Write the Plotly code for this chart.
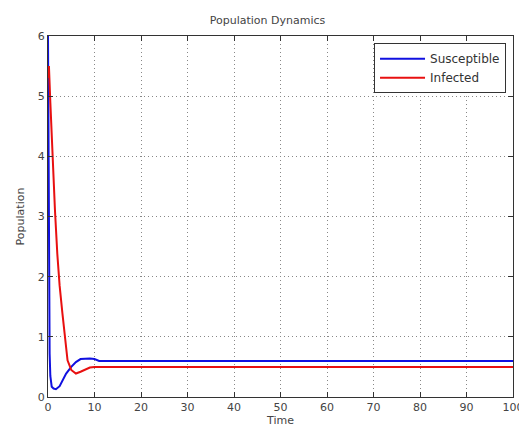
import plotly.graph_objects as go

# Data
time_s = [0, 0.1, 0.2, 0.35, 0.5, 0.8, 1.2, 1.7, 2.5, 3.2, 3.9, 5.0, 6.0, 7.0, 8.0, 9.0, 10.0, 11.0, 20, 40, 60, 80, 100]
susceptible = [6.0, 4.2, 3.0, 0.72, 0.35, 0.17, 0.14, 0.13, 0.18, 0.28, 0.39, 0.50, 0.58, 0.63, 0.64, 0.64, 0.63, 0.60, 0.60, 0.60, 0.60, 0.60, 0.60]

time_i = [0, 0.2, 0.5, 0.95, 1.5, 2.0, 2.5, 3.1, 3.6, 4.2, 5.0, 6.0, 7.0, 8.2, 9.0, 10.0, 11.0, 20, 40, 60, 80, 100]
infected = [5.3, 5.5, 4.9, 4.05, 3.1, 2.38, 1.85, 1.39, 1.0, 0.61, 0.45, 0.39, 0.42, 0.47, 0.49, 0.50, 0.50, 0.50, 0.50, 0.50, 0.50, 0.50]

x_ticks = [0, 10, 20, 30, 40, 50, 60, 70, 80, 90, 100]
y_ticks = [0, 1, 2, 3, 4, 5, 6]

fig = go.Figure()
fig.add_trace(go.Scatter(x=time_s, y=susceptible, mode="lines", name="Susceptible",
                         line=dict(color="#1010e0", width=2)))
fig.add_trace(go.Scatter(x=time_i, y=infected, mode="lines", name="Infected",
                         line=dict(color="#e81010", width=2)))

axis_common = dict(
    showline=True, linecolor="#333333", linewidth=1, mirror="ticks",
    ticks="inside", ticklen=5, tickcolor="#333333", automargin=False,
    showgrid=True, gridcolor="#888888", griddash="1px,3px", gridwidth=1,
    zeroline=False, tickfont=dict(family="DejaVu Sans", size=11, color="#444444"),
)

fig.update_layout(
    width=519, height=427,
    margin=dict(l=40, r=14, t=28, b=38),
    paper_bgcolor="white", plot_bgcolor="white",
    title=dict(text="Population Dynamics", x=0.5, xanchor="center", y=0.972, yanchor="middle",
               font=dict(family="DejaVu Sans", size=11, color="#444444")),
    xaxis=dict(range=[0, 100], tickvals=x_ticks, title=dict(text="Time", standoff=0,
               font=dict(family="DejaVu Sans", size=11, color="#444444")), **axis_common),
    yaxis=dict(range=[0, 6], tickvals=y_ticks, title=dict(text="Population", standoff=10,
               font=dict(family="DejaVu Sans", size=11, color="#444444")), **axis_common),
    legend=dict(x=0.985, y=0.98, xanchor="right", yanchor="top", itemwidth=45,
                bgcolor="white", bordercolor="#333333", borderwidth=1,
                font=dict(family="DejaVu Sans", size=12, color="#333333")),
    showlegend=True,
)

fig.write_html("out.html")
